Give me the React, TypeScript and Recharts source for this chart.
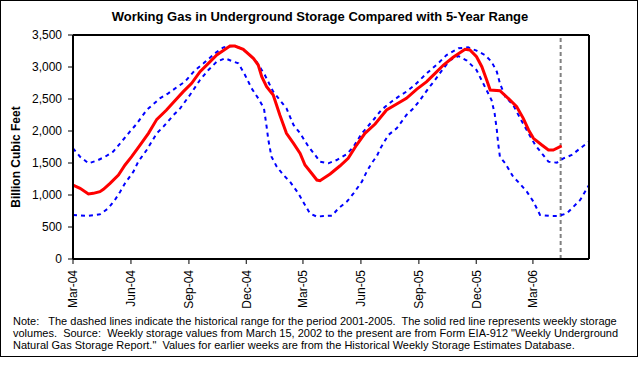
import React from "react";
import { LineChart, Line, XAxis, YAxis, ReferenceLine } from "recharts";

// Week offsets from Mar 1, 2004 and values (Bcf)
const redWeeks = [0, 1.6, 3.5, 4.6, 6.1, 6.9, 8.4, 10.3, 11.8, 13.3, 15.2, 17.1, 19, 21.2, 23.1, 25, 26.9, 28.8, 30.7, 32.6, 34.5, 35.6, 36.7, 38.6, 40.9, 42, 42.8, 43.9, 45.4, 46.9, 48.4, 50, 51.5, 52.6, 54.1, 55.3, 56, 58.3, 60.5, 62.4, 64.3, 66.2, 68.5, 71.1, 73.4, 75.6, 77.9, 80.2, 82.1, 84, 86.2, 88.9, 90, 91.5, 92.7, 93.8, 94.6, 96.8, 99.1, 100.6, 102.1, 103.3, 104.4, 106.3, 107.8, 108.9, 110.8];
const redValues = [1156, 1104, 1016, 1026, 1052, 1089, 1182, 1313, 1469, 1599, 1781, 1964, 2182, 2328, 2474, 2615, 2745, 2927, 3057, 3187, 3276, 3328, 3328, 3276, 3135, 3031, 2849, 2693, 2562, 2250, 1964, 1807, 1651, 1469, 1339, 1234, 1224, 1328, 1453, 1573, 1781, 1964, 2109, 2328, 2422, 2510, 2651, 2771, 2901, 3031, 3151, 3276, 3266, 3161, 3005, 2797, 2641, 2630, 2484, 2380, 2198, 2016, 1885, 1781, 1703, 1703, 1766];

const highWeeks = [0, 1.6, 3.5, 5.4, 7.3, 9.1, 10.7, 12.9, 14.4, 15.6, 16.7, 19.7, 21.6, 23.5, 25.4, 27.7, 29.6, 32.2, 34.1, 36.4, 38.2, 40.1, 41.6, 43.5, 45.4, 46.9, 48.4, 50, 51.5, 53.4, 54.9, 56, 57.9, 59.8, 62.1, 63.6, 65.5, 68.1, 69.9, 72.2, 73.8, 75.6, 77.5, 80.2, 82.8, 84.7, 87.4, 89.6, 91.5, 93.4, 94.9, 96.1, 96.8, 98, 99.8, 101.4, 103.3, 104.8, 106.3, 107.8, 109.7, 111.2, 113.1, 115, 117];
const highValues = [1729, 1599, 1495, 1536, 1599, 1677, 1807, 1990, 2109, 2224, 2328, 2510, 2589, 2682, 2771, 2953, 3057, 3214, 3307, 3328, 3292, 3187, 3083, 2875, 2615, 2484, 2354, 2094, 1964, 1755, 1625, 1521, 1495, 1547, 1641, 1755, 1964, 2172, 2328, 2458, 2536, 2615, 2719, 2901, 3057, 3187, 3292, 3307, 3255, 3187, 3083, 2927, 2745, 2536, 2406, 2198, 1964, 1781, 1651, 1521, 1505, 1573, 1625, 1729, 1833];

const lowWeeks = [0, 3.1, 6.1, 8, 9.5, 10.7, 11.8, 13.7, 14.8, 16.7, 19, 20.5, 22.8, 24.3, 26.5, 28.8, 30.7, 32.6, 34.5, 36.4, 37.5, 39, 40.5, 42, 43.3, 43.9, 44.3, 45, 46.2, 47.7, 49.2, 51.1, 52.6, 53.7, 55.3, 56.8, 58.7, 60.2, 62.1, 63.6, 65.5, 66.6, 67.7, 68.9, 69.7, 71.5, 73.4, 75.6, 77.2, 78.7, 80.6, 82.1, 84, 85.5, 87.4, 89.3, 91.5, 93, 94.9, 95.6, 96.1, 96.4, 96.8, 98, 99.8, 101.4, 102.9, 104.4, 105.9, 108.3, 110.1, 112, 113.5, 115, 117];
const lowValues = [688, 672, 698, 792, 922, 1052, 1182, 1365, 1521, 1703, 1964, 2068, 2250, 2354, 2562, 2797, 2953, 3083, 3135, 3083, 3057, 2875, 2667, 2510, 2354, 2068, 1859, 1599, 1443, 1313, 1208, 1026, 844, 714, 661, 672, 677, 792, 896, 1026, 1208, 1365, 1495, 1609, 1729, 1938, 2042, 2250, 2354, 2484, 2667, 2797, 2979, 3109, 3170, 3100, 2953, 2745, 2484, 2276, 2016, 1807, 1599, 1495, 1286, 1172, 1052, 896, 688, 672, 672, 714, 818, 922, 1156];

const tickDays = [0, 92, 184, 275, 365, 457, 549, 640, 730];
const tickLabels = ["Mar-04", "Jun-04", "Sep-04", "Dec-04", "Mar-05", "Jun-05", "Sep-05", "Dec-05", "Mar-06"];
const yTicks = [0, 500, 1000, 1500, 2000, 2500, 3000, 3500];
const currentWeekDay = 774;

const title = "Working Gas in Underground Storage Compared with 5-Year Range";
const yLabel = "Billion Cubic Feet";
const noteLines = [
  "Note:   The dashed lines indicate the historical range for the period 2001-2005.  The solid red line represents weekly storage",
  "volumes.  Source:  Weekly storage values from March 15, 2002 to the present are from Form EIA-912 \"Weekly Underground",
  "Natural Gas Storage Report.\"  Values for earlier weeks are from the Historical Weekly Storage Estimates Database.",
];

const toData = (weeks: number[], values: number[]) =>
  weeks.map((w, i) => ({ d: w * 7, v: values[i] }));

const redData = toData(redWeeks, redValues);
const highData = toData(highWeeks, highValues);
const lowData = toData(lowWeeks, lowValues);

const FONT = "'Liberation Sans', Arial, sans-serif";

const fmt = (v: number) => v.toLocaleString("en-US");

const XTick = (props: any) => {
  const { x, y, payload } = props;
  const idx = tickDays.indexOf(payload.value);
  return (
    <text
      x={x}
      y={y}
      transform={`rotate(-90, ${x}, ${y})`}
      textAnchor="end"
      dy="0.36em"
      fontSize={12}
      fontFamily={FONT}
      fill="#000"
    >
      {idx >= 0 ? tickLabels[idx] : ""}
    </text>
  );
};

export default function App() {
  return (
    <div style={{ position: "absolute", left: 0, top: 0, width: 638, height: 366, background: "#fff" }}>
      <div style={{ position: "absolute", left: 0, top: 0 }}>
        <LineChart width={638} height={309} margin={{ top: 35, right: 0, left: 0, bottom: 0 }}>
          <XAxis
            dataKey="d"
            type="number"
            domain={[0, 819]}
            ticks={tickDays}
            allowDataOverflow
            height={50}
            tickSize={5}
            tickMargin={6}
            interval={0}
            axisLine={{ stroke: "#000", strokeWidth: 2 }}
            tickLine={{ stroke: "#000", strokeWidth: 1 }}
            tick={<XTick />}
          />
          <YAxis
            yAxisId="left"
            orientation="left"
            width={73}
            domain={[0, 3500]}
            ticks={yTicks}
            tickSize={5}
            tickMargin={6}
            tickFormatter={fmt}
            axisLine={{ stroke: "#000", strokeWidth: 2 }}
            tickLine={{ stroke: "#000", strokeWidth: 1 }}
            tick={{ fill: "#000", fontSize: 12, fontFamily: FONT }}
          />
          <YAxis
            yAxisId="right"
            orientation="right"
            width={49}
            domain={[0, 3500]}
            ticks={yTicks}
            tickSize={5}
            tickMargin={4}
            tickFormatter={fmt}
            axisLine={{ stroke: "#000", strokeWidth: 2 }}
            tickLine={{ stroke: "#000", strokeWidth: 1 }}
            tick={{ fill: "#000", fontSize: 12, fontFamily: FONT, textAnchor: "start" }}
          />
          <ReferenceLine yAxisId="left" y={3500} stroke="#000" strokeWidth={2} />
          <ReferenceLine yAxisId="left" x={currentWeekDay} stroke="#808080" strokeWidth={2} strokeDasharray="4 3" />
          <Line
            yAxisId="left"
            data={highData}
            dataKey="v"
            type="linear"
            stroke="#0000FF"
            strokeWidth={2}
            strokeDasharray="4 4"
            dot={false}
            isAnimationActive={false}
          />
          <Line
            yAxisId="left"
            data={lowData}
            dataKey="v"
            type="linear"
            stroke="#0000FF"
            strokeWidth={2}
            strokeDasharray="4 4"
            dot={false}
            isAnimationActive={false}
          />
          <Line
            yAxisId="left"
            data={redData}
            dataKey="v"
            type="linear"
            stroke="#FF0000"
            strokeWidth={3}
            dot={false}
            isAnimationActive={false}
          />
        </LineChart>
      </div>
      <svg width={638} height={366} style={{ position: "absolute", left: 0, top: 0, pointerEvents: "none" }}>
        <rect x={0.5} y={0.5} width={637} height={356} fill="none" stroke="#000" strokeWidth={1} />
        <text x={320} y={21} textAnchor="middle" fontSize={13} fontWeight="bold" fontFamily={FONT} fill="#000">
          {title}
        </text>
        <text
          x={20}
          y={157}
          transform="rotate(-90, 20, 157)"
          textAnchor="middle"
          fontSize={12}
          fontWeight="bold"
          fontFamily={FONT}
          fill="#000"
        >
          {yLabel}
        </text>
        {noteLines.map((line, i) => (
          <text
            key={i}
            x={13}
            y={325 + i * 12}
            fontSize={11}
            fontFamily={FONT}
            fill="#000"
            style={{ whiteSpace: "pre" }}
          >
            {line}
          </text>
        ))}
      </svg>
    </div>
  );
}
